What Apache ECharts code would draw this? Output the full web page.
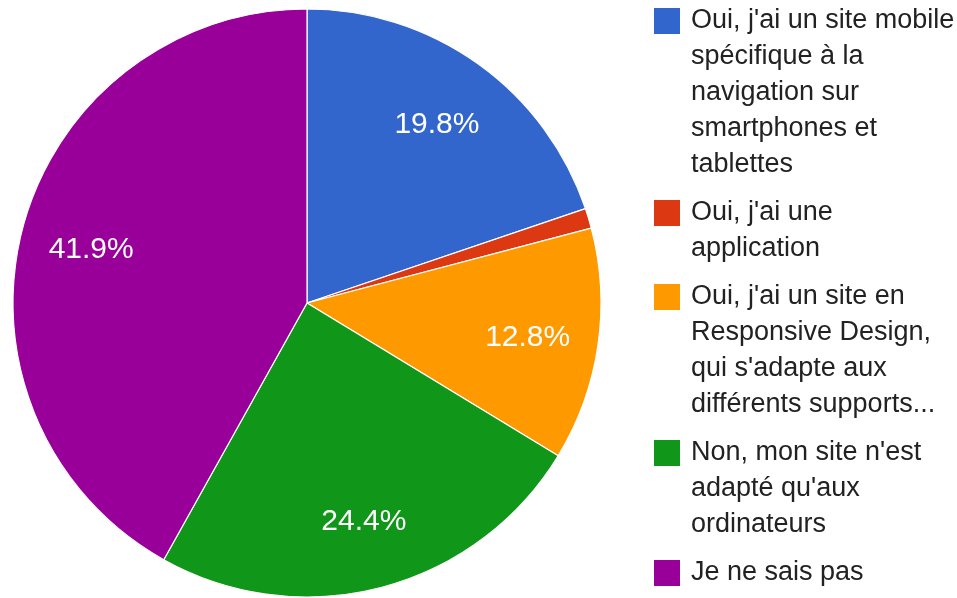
<!DOCTYPE html>
<html>
<head>
<meta charset="utf-8">
<script src="https://cdn.jsdelivr.net/npm/echarts@6/dist/echarts.min.js"></script>
<style>
html,body{margin:0;padding:0;background:#fff;}
#chart{width:957px;height:598px;}
</style>
</head>
<body>
<div id="chart"></div>
<script>
// Data
const categories = [
  "Oui, j'ai un site mobile\nspécifique à la\nnavigation sur\nsmartphones et\ntablettes",
  "Oui, j'ai une\napplication",
  "Oui, j'ai un site en\nResponsive Design,\nqui s'adapte aux\ndifférents supports...",
  "Non, mon site n'est\nadapté qu'aux\nordinateurs",
  "Je ne sais pas"
];
const values = [19.8, 1.1, 12.8, 24.4, 41.9];
const colors = ['#3366CC', '#DC3912', '#FF9900', '#109618', '#990099'];

const chart = echarts.init(document.getElementById('chart'), null, {renderer: 'canvas'});

const cx = 307, cy = 303, R = 294;
const lineH = 36, iconSize = 28, gap = 12, legendLeft = 652, firstIconTop = 7;
const fontFamily = '"Liberation Sans", Arial, sans-serif';

const pieData = categories.map((c, i) => ({name: c, value: values[i], itemStyle: {color: colors[i]}}));

// one legend per item so that the icon aligns with the first text line
const legends = [];
let iconTop = firstIconTop;
categories.forEach((c, i) => {
  const n = c.split('\n').length;
  const center = iconTop + iconSize / 2;
  const top = center - (2 * n - 1) * lineH / 2;
  const pad = '\n'.repeat(n - 1);
  legends.push({
    orient: 'vertical',
    left: legendLeft,
    top: top,
    padding: 0,
    itemWidth: iconSize,
    itemHeight: iconSize,
    icon: 'rect',
    selectedMode: false,
    data: [c],
    formatter: name => pad + name,
    textStyle: {
      color: '#222222',
      fontSize: 27,
      fontFamily: fontFamily,
      lineHeight: lineH,
      padding: [0, 0, 0, 5]
    }
  });
  iconTop += n * lineH + gap;
});

const option = {
  animation: false,
  backgroundColor: '#ffffff',
  legend: legends,
  series: [
    {
      type: 'pie',
      center: [cx, cy],
      radius: [0, R],
      startAngle: 90,
      clockwise: true,
      silent: true,
      data: pieData,
      label: {show: false},
      labelLine: {show: false},
      itemStyle: {borderColor: '#ffffff', borderWidth: 1.2}
    },
    {
      type: 'pie',
      center: [cx, cy],
      radius: [146, R],
      startAngle: 90,
      clockwise: true,
      silent: true,
      data: categories.map((c, i) => ({name: c + ' ', value: values[i]})),
      itemStyle: {color: 'rgba(0,0,0,0)', borderWidth: 0},
      label: {
        show: true,
        position: 'inside',
        color: '#ffffff',
        fontSize: 30,
        fontFamily: fontFamily,
        offset: [0, 3],
        formatter: p => p.value >= 5 ? p.value.toFixed(1) + '%' : ''
      },
      labelLine: {show: false}
    }
  ]
};
chart.setOption(option);
</script>
</body>
</html>
